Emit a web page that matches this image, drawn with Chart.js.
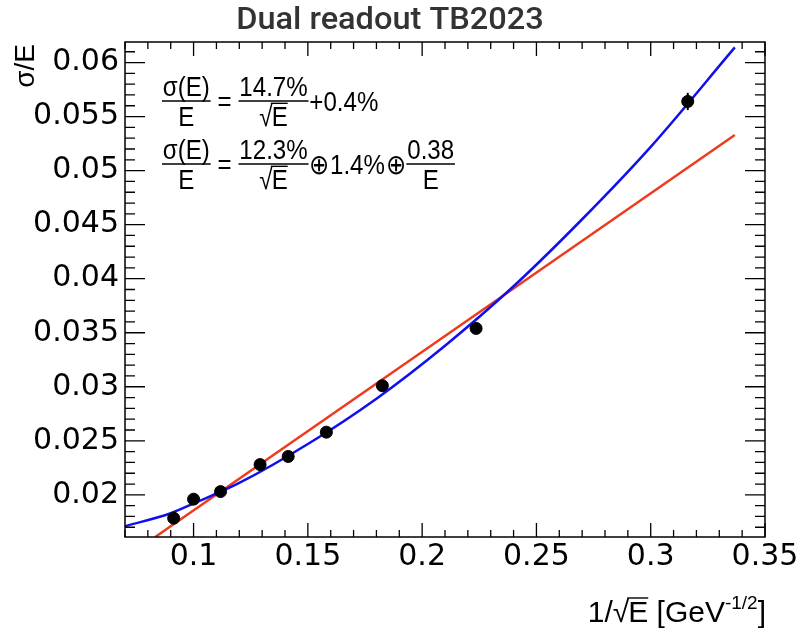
<!DOCTYPE html>
<html><head><meta charset="utf-8">
<script src="https://cdn.jsdelivr.net/npm/chart.js@4.4.0/dist/chart.umd.min.js"></script>
<style>html,body{margin:0;padding:0;background:#fff}</style>
</head><body>
<canvas id="c" width="808" height="632"></canvas>
<script>
// Data (1/sqrt(E) vs sigma/E)
const invSqrtE=[0.0913,0.1,0.1118,0.1291,0.1414,0.1581,0.1826,0.2236,0.3162];
const sigmaE=[0.01784,0.0196,0.0203,0.0228,0.02355,0.0258,0.0301,0.0354,0.0564];
const sigmaErr=[0.0003,0.0003,0.0003,0.0003,0.0003,0.0003,0.0003,0.0004,0.0008];
// fit curves
const linFitX=[0.0832,0.3368];
const linFitY=[0.0161,0.0533];
const quadFitX=[0.07,0.09,0.1,0.12,0.15,0.18,0.21,0.24,0.27,0.30,0.3368];
const quadFitY=[0.0171,0.0183,0.0192,0.0211,0.0247,0.0289,0.0338,0.0393,0.0455,0.0522,0.0614];
// ticks
const xTickVals=[0.1,0.15,0.2,0.25,0.3,0.35];
const xTickLabels=['0.1','0.15','0.2','0.25','0.3','0.35'];
const yTickVals=[0.02,0.025,0.03,0.035,0.04,0.045,0.05,0.055,0.06];
const yTickLabels=['0.02','0.025','0.03','0.035','0.04','0.045','0.05','0.055','0.06'];

const FONT='"Liberation Sans", Arial, sans-serif';
const TICKFONT='"DejaVu Sans", sans-serif';
const RED='#ee3b20', BLUE='#1010ee';

function pts(xs,ys){return xs.map((x,i)=>({x:x,y:ys[i]}));}

// draws "√E" with overline, returns width
function sqrtE(ctx,x,base,size,draw){
  ctx.font=size+'px '+FONT;
  const wr=ctx.measureText('√').width, we=ctx.measureText('E').width;
  if(draw){
    ctx.fillText('√',x,base);
    ctx.fillText('E',x+wr-1,base);
    ctx.lineWidth=1.4;
    ctx.beginPath();ctx.moveTo(x+wr-2,base-size*0.8);ctx.lineTo(x+wr-1+we,base-size*0.8);ctx.stroke();
  }
  return wr-1+we;
}
function partW(ctx,p,size){
  ctx.font=size+'px '+FONT;
  if(p.text) return ctx.measureText(p.text).width;
  const n=ctx.measureText(p.num).width;
  const d=p.den==='√E'?sqrtE(ctx,0,0,size,false):ctx.measureText(p.den).width;
  return Math.max(n,d)+2;
}
// one formula line, squeezed horizontally like the original
function drawRow(ctx,x0,barY,parts,size,sx){
  ctx.save();ctx.translate(x0,0);ctx.scale(sx,1);
  let x=0;
  ctx.fillStyle='#000';ctx.strokeStyle='#000';ctx.textAlign='left';ctx.textBaseline='alphabetic';
  parts.forEach(p=>{
    const w=partW(ctx,p,size);
    ctx.font=size+'px '+FONT;
    if(p.text){ctx.fillText(p.text,x,barY+size*0.36);}
    else{
      ctx.lineWidth=1.6;ctx.beginPath();ctx.moveTo(x,barY);ctx.lineTo(x+w,barY);ctx.stroke();
      const nw=ctx.measureText(p.num).width;
      ctx.fillText(p.num,x+(w-nw)/2,barY-5);
      if(p.den==='√E'){const dw=sqrtE(ctx,0,0,size,false);sqrtE(ctx,x+(w-dw)/2,barY+4+size*0.74,size,true);}
      else{const dw=ctx.measureText(p.den).width;ctx.font=size+'px '+FONT;ctx.fillText(p.den,x+(w-dw)/2,barY+4+size*0.74);}
    }
    x+=w+(p.gap||2);
  });
  ctx.restore();
}

const rootStyle={
  id:'rootStyle',
  afterDatasetsDraw(chart){
    const ctx=chart.ctx, a=chart.chartArea, xs=chart.scales.x, ys=chart.scales.y;
    ctx.save();
    // error bars
    ctx.strokeStyle='#000';ctx.lineWidth=2;
    invSqrtE.forEach((v,i)=>{
      const px=xs.getPixelForValue(v);
      ctx.beginPath();ctx.moveTo(px,ys.getPixelForValue(sigmaE[i]-sigmaErr[i]));ctx.lineTo(px,ys.getPixelForValue(sigmaE[i]+sigmaErr[i]));ctx.stroke();
    });
    // frame + inward ticks on all four sides
    ctx.lineWidth=1.5;ctx.strokeRect(a.left,a.top,a.right-a.left,a.bottom-a.top);
    ctx.lineWidth=1.3;ctx.beginPath();
    for(let k=7;k<=35;k++){
      const px=xs.getPixelForValue(k/100), L=(k%5===0)?14:7;
      ctx.moveTo(px,a.bottom);ctx.lineTo(px,a.bottom-L);
      ctx.moveTo(px,a.top);ctx.lineTo(px,a.top+L);
    }
    for(let k=17;k<=61;k++){
      const py=ys.getPixelForValue(k/1000), L=(k%5===0)?20:10;
      ctx.moveTo(a.left,py);ctx.lineTo(a.left+L,py);
      ctx.moveTo(a.right,py);ctx.lineTo(a.right-L,py);
    }
    ctx.stroke();
    // title
    ctx.save();ctx.translate(390,21);ctx.scale(1.05,1);
    ctx.fillStyle='#333';ctx.font='500 31px Roboto, sans-serif';ctx.textAlign='center';ctx.textBaseline='middle';
    ctx.fillText('Dual readout TB2023',0,0);ctx.restore();
    // y title
    ctx.fillStyle='#000';ctx.font='28px '+FONT;
    ctx.save();ctx.translate(34,44);ctx.rotate(-Math.PI/2);ctx.textAlign='right';ctx.textBaseline='alphabetic';
    ctx.fillText('σ/E',0,0);ctx.restore();
    // x title
    ctx.textAlign='left';ctx.textBaseline='alphabetic';
    const base=622, fs=30, ss=19;
    ctx.font=fs+'px '+FONT;
    const w1=ctx.measureText('1/').width, w2=sqrtE(ctx,0,0,fs,false);
    ctx.font=fs+'px '+FONT;const w3=ctx.measureText(' [GeV').width;
    ctx.font=ss+'px '+FONT;const w4=ctx.measureText('-1/2').width;
    ctx.font=fs+'px '+FONT;const w5=ctx.measureText(']').width;
    let x=766-(w1+w2+w3+w4+w5);
    ctx.fillText('1/',x,base);x+=w1;
    sqrtE(ctx,x,base,fs,true);x+=w2;
    ctx.font=fs+'px '+FONT;ctx.fillText(' [GeV',x,base);x+=w3;
    ctx.font=ss+'px '+FONT;ctx.fillText('-1/2',x,base-13);x+=w4;
    ctx.font=fs+'px '+FONT;ctx.fillText(']',x,base);
    // fit formulas
    drawRow(ctx,162,101,[{num:'σ(E)',den:'E',gap:8},{text:'=',gap:8},{num:'14.7%',den:'√E',gap:1},{text:'+0.4%'}],28,0.86);
    drawRow(ctx,162,164,[{num:'σ(E)',den:'E',gap:8},{text:'=',gap:8},{num:'12.3%',den:'√E',gap:1},{text:'⊕',gap:1},{text:'1.4%',gap:1},{text:'⊕',gap:1},{num:'0.38',den:'E'}],28,0.86);
    ctx.restore();
  }
};

const chart=new Chart(document.getElementById('c'),{
  type:'scatter',
  data:{datasets:[
    {data:pts(linFitX,linFitY),showLine:true,borderColor:RED,borderWidth:2.5,pointRadius:0,order:3},
    {data:pts(quadFitX,quadFitY),showLine:true,borderColor:BLUE,borderWidth:2.5,pointRadius:0,tension:0.4,cubicInterpolationMode:'monotone',order:2},
    {data:pts(invSqrtE,sigmaE),backgroundColor:'#000',borderColor:'#000',pointRadius:6,order:1}
  ]},
  options:{
    responsive:false,animation:false,devicePixelRatio:1,
    layout:{padding:{top:42,right:43,left:0,bottom:0}},
    plugins:{legend:{display:false},tooltip:{enabled:false}},
    scales:{
      x:{type:'linear',min:0.07,max:0.35,
        grid:{display:false,drawTicks:false},border:{display:false},
        afterBuildTicks:s=>{s.ticks=xTickVals.map(v=>({value:v}));},
        afterFit:s=>{s.height=95;},
        ticks:{autoSkip:false,maxRotation:0,padding:2,color:'#000',font:{family:TICKFONT,size:30},callback:(v,i)=>xTickLabels[i]}},
      y:{type:'linear',min:0.0161,max:0.0619,
        grid:{display:false,drawTicks:false},border:{display:false},
        afterBuildTicks:s=>{s.ticks=yTickVals.map(v=>({value:v}));},
        afterFit:s=>{s.width=125;},
        ticks:{autoSkip:false,padding:6,color:'#000',font:{family:TICKFONT,size:30},callback:(v,i)=>yTickLabels[i]}}
    }
  },
  plugins:[rootStyle]
});
</script>
</body></html>
